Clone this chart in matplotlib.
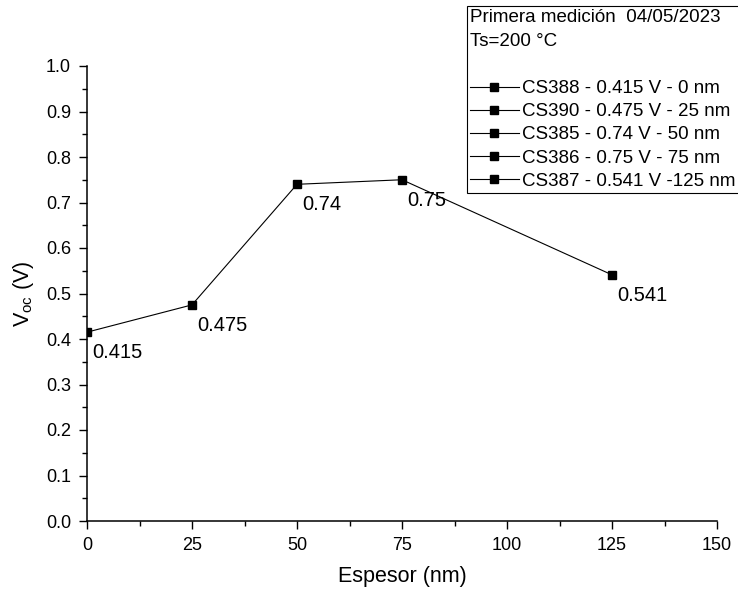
import matplotlib
matplotlib.use("Agg")
import matplotlib.pyplot as plt
from matplotlib.lines import Line2D
from matplotlib.ticker import MultipleLocator

plt.rcParams['font.family'] = ['Liberation Sans', 'DejaVu Sans']
plt.rcParams['mathtext.fontset'] = 'custom'
plt.rcParams['mathtext.rm'] = 'Liberation Sans'
plt.rcParams['mathtext.it'] = 'Liberation Sans'

# data
thickness_nm = [0, 25, 50, 75, 125]
voc = [0.415, 0.475, 0.74, 0.75, 0.541]
voc_labels = ['0.415', '0.475', '0.74', '0.75', '0.541']
legend_labels = ['CS388 - 0.415 V - 0 nm', 'CS390 - 0.475 V - 25 nm',
                 'CS385 - 0.74 V - 50 nm', 'CS386 - 0.75 V - 75 nm',
                 'CS387 - 0.541 V -125 nm']
legend_title = 'Primera medición  04/05/2023\nTs=200 °C\n'
x_ticks = [0, 25, 50, 75, 100, 125, 150]
y_ticks = [0.0, 0.1, 0.2, 0.3, 0.4, 0.5, 0.6, 0.7, 0.8, 0.9, 1.0]

W, H = 738, 597
fig = plt.figure(figsize=(W / 100, H / 100), dpi=100)
L, R, T, B = 87, 717, 66, 521
ax = fig.add_axes([L / W, 1 - B / H, (R - L) / W, (B - T) / H])

ax.plot(thickness_nm, voc, color='black', linewidth=0.8, marker='s',
        markersize=6.4, markerfacecolor='black', markeredgecolor='black')

for xv, yv, lab in zip(thickness_nm, voc, voc_labels):
    ax.annotate(lab, (xv, yv), xytext=(5, -11), textcoords='offset pixels',
                ha='left', va='top', fontsize=14.5, annotation_clip=False)

ax.set_xlim(0, 150)
ax.set_ylim(0, 1.0)
ax.set_xticks(x_ticks)
ax.set_yticks(y_ticks)
ax.set_yticklabels([f'{v:.1f}' for v in y_ticks])
ax.xaxis.set_minor_locator(MultipleLocator(12.5))
ax.yaxis.set_minor_locator(MultipleLocator(0.05))
ax.tick_params(which='major', direction='out', length=6, width=1.0,
               labelsize=13, pad=5.5)
ax.tick_params(which='minor', direction='out', length=3.3, width=1.0)
for s in ['top', 'right']:
    ax.spines[s].set_visible(False)
for s in ['left', 'bottom']:
    ax.spines[s].set_linewidth(1.1)

ax.set_xlabel('Espesor (nm)', fontsize=15.5, labelpad=9)
ax.set_ylabel('V$_{\\mathregular{oc}}$ (V)', fontsize=15.5, labelpad=7)

handles = [Line2D([], [], color='black', linewidth=0.8, marker='s',
                  markersize=5.2) for _ in legend_labels]
leg = fig.legend(handles, legend_labels, title=legend_title,
                 loc='upper left', bbox_to_anchor=(467 / W, 1 - 6 / H),
                 fontsize=13.5, title_fontsize=13.5, frameon=True,
                 fancybox=False, edgecolor='black', framealpha=1,
                 borderpad=0.15, handlelength=2.6, handletextpad=0.2,
                 labelspacing=0.32, borderaxespad=0, alignment='left')
leg.get_title().set_linespacing(1.55)
leg.get_frame().set_linewidth(0.8)

fig.savefig('out.png', dpi=100)
